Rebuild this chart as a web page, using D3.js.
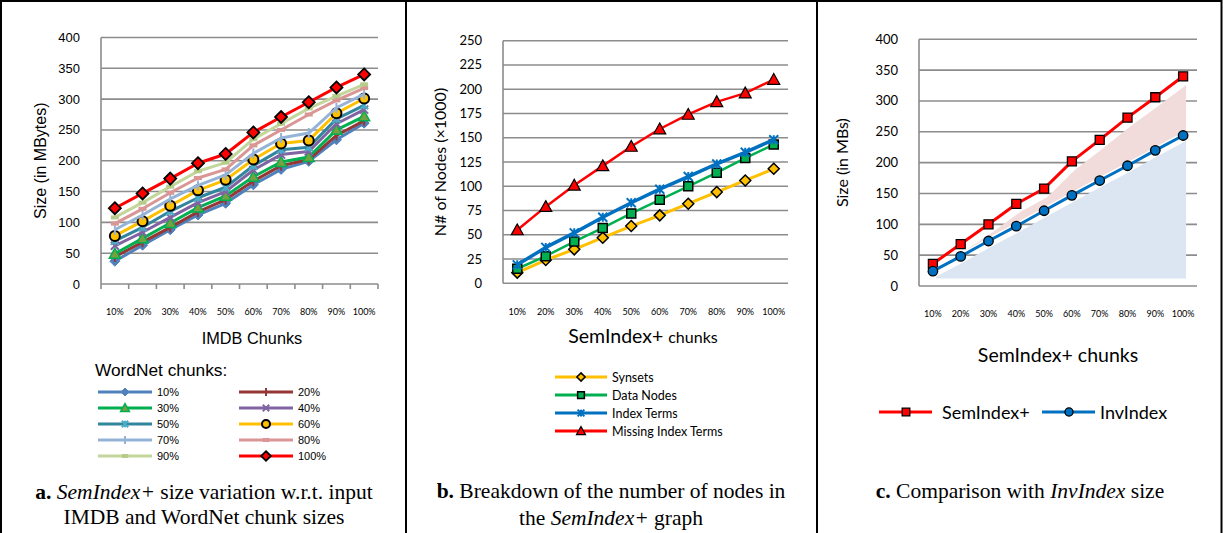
<!DOCTYPE html>
<html lang="en">
<head>
  <meta charset="UTF-8">
  <title>SemIndex+ charts</title>
  <script src="https://d3js.org/d3.v7.min.js"></script>
  <style>
    body { margin:0; background:#fff; overflow:hidden; }
    svg { display:block; }
    .sans { font-family: "Liberation Sans", Arial, sans-serif; }
    .cal { font-family: Lato, "Open Sans", sans-serif; }
    .cap { font-family: "Liberation Serif", "Times New Roman", serif; font-size:21.5px; }
  </style>
</head>
<body>
<script>
  // ---- data ----
  const chunks = ["10%","20%","30%","40%","50%","60%","70%","80%","90%","100%"];

  // a) SemIndex+ size (MB) per IMDB chunk, one line per WordNet chunk
  const wn10  = [37, 63, 88, 112, 131, 161, 186, 199, 234, 261];
  const wn20  = [44, 68, 92, 117, 137, 167, 192, 202, 241, 265];
  const wn30  = [49, 74, 99, 124, 143, 174, 198, 206, 250, 272];
  const wn40  = [62, 84, 108, 132, 150, 185, 210, 215, 260, 283];
  const wn50  = [70, 92, 118, 140, 157, 192, 218, 222, 268, 290];
  const wn60  = [78, 102, 127, 152, 169, 202, 228, 233, 277, 301];
  const wn70  = [88, 112, 138, 160, 177, 212, 237, 245, 286, 308];
  const wn80  = [98, 122, 148, 172, 186, 225, 250, 275, 298, 318];
  const wn90  = [108, 132, 158, 183, 197, 235, 260, 285, 305, 324];
  const wn100 = [123, 147, 171, 196, 211, 246, 271, 295, 319, 340];

  // b) number of nodes (x1000)
  const synsets      = [11, 24, 35, 47, 59, 70, 82, 94, 106, 118];
  const dataNodes    = [15, 28, 43, 57, 72, 86, 100, 114, 129, 143];
  const indexTerms   = [19, 37, 52, 68, 83, 97, 110, 123, 135, 148];
  const missingTerms = [55, 79, 101, 121, 141, 159, 174, 187, 196, 210];

  // c) size comparison (MB)
  const semIndex = [36, 68, 100, 133, 158, 202, 237, 273, 306, 340];
  const invIndex = [24, 48, 73, 97, 122, 147, 171, 195, 220, 244];

  const yTicksA = [0, 50, 100, 150, 200, 250, 300, 350, 400];
  const yTicksB = [0, 25, 50, 75, 100, 125, 150, 175, 200, 225, 250];
  const yTicksC = [0, 50, 100, 150, 200, 250, 300, 350, 400];

  const W = 1223, H = 533;
  const svg = d3.select("body").append("svg").attr("width", W).attr("height", H);

  // panel frames
  svg.append("rect").attr("x", 1).attr("y", 1).attr("width", W - 2.5).attr("height", H + 10)
    .attr("fill", "none").attr("stroke", "#000").attr("stroke-width", 2);
  [406, 817].forEach(x => svg.append("line").attr("x1", x).attr("x2", x).attr("y1", 0).attr("y2", H)
    .attr("stroke", "#000").attr("stroke-width", 2));

  // marker shapes
  function marker(g, type, size, fill, stroke, sw) {
    let p;
    const s = size / 2;
    if (type === "diamond") p = `M0,${-s}L${s},0L0,${s}L${-s},0Z`;
    else if (type === "square") p = `M${-s},${-s}H${s}V${s}H${-s}Z`;
    else if (type === "triangle") p = `M0,${-s}L${s},${s * 0.8}L${-s},${s * 0.8}Z`;
    else if (type === "circle") p = d3.symbol(d3.symbolCircle, Math.PI * s * s)();
    else if (type === "x") p = `M${-s},${-s}L${s},${s}M${s},${-s}L${-s},${s}`;
    else if (type === "star") p = `M${-s},${-s}L${s},${s}M${s},${-s}L${-s},${s}M0,${-s}V${s}`;
    else if (type === "plus") p = `M0,${-s}V${s}M${-s},0H${s}`;
    else if (type === "vbar") p = `M0,${-s}V${s}`;
    else if (type === "dash") p = `M${-s},0H${s}`;
    if (!p) return;
    g.append("path").attr("d", p).attr("fill", fill || "none")
      .attr("stroke", stroke).attr("stroke-width", sw);
  }

  function panel(cfg) {
    const x = d3.scaleBand().domain(chunks).range(cfg.xr);
    const y = d3.scaleLinear().domain(cfg.yd).range(cfg.yr);
    const g = svg.append("g");

    // gridlines
    g.selectAll(".grid").data(cfg.ticks.slice(1)).join("line")
      .attr("x1", cfg.xr[0]).attr("x2", cfg.xr[1])
      .attr("y1", d => y(d)).attr("y2", d => y(d))
      .attr("stroke", "#8c8c8c").attr("stroke-width", 1.6);
    // axes lines
    g.append("line").attr("x1", cfg.xr[0]).attr("x2", cfg.xr[0])
      .attr("y1", y(cfg.yd[0])).attr("y2", y(cfg.yd[1]))
      .attr("stroke", "#8c8c8c").attr("stroke-width", 1.6);
    g.append("line").attr("x1", cfg.xr[0]).attr("x2", cfg.xr[1])
      .attr("y1", y(0)).attr("y2", y(0))
      .attr("stroke", "#8c8c8c").attr("stroke-width", 1.6);
    if (cfg.xTicks) {
      const edges = chunks.map(c => x(c)).concat([cfg.xr[1]]);
      g.selectAll(".xt").data(edges).join("line")
        .attr("x1", d => d).attr("x2", d => d)
        .attr("y1", y(0)).attr("y2", y(0) + 5)
        .attr("stroke", "#8c8c8c").attr("stroke-width", 1.6);
    }
    // y tick labels
    g.selectAll(".yl").data(cfg.ticks).join("text")
      .attr("class", cfg.font)
      .attr("x", cfg.xr[0] - 21).attr("y", d => y(d) + 4.5)
      .attr("text-anchor", "end").attr("font-size", 13).attr("fill", "#000")
      .text(d => d);
    // x tick labels
    g.selectAll(".xl").data(chunks).join("text")
      .attr("class", "cal")
      .attr("x", d => x(d) + x.bandwidth() / 2).attr("y", cfg.xLabelY)
      .attr("text-anchor", "middle").attr("font-size", 9).attr("fill", "#000")
      .text(d => d);
    // y axis title
    g.append("text").attr("class", cfg.font)
      .attr("transform", `translate(${cfg.yTitleX},${(cfg.yr[0] + cfg.yr[1]) / 2}) rotate(-90)`)
      .attr("text-anchor", "middle").attr("font-size", 16).text(cfg.yTitle);

    // areas (panel c)
    if (cfg.areas) cfg.areas.forEach(a => {
      const area = d3.area()
        .x((d, i) => x(chunks[i]) + x.bandwidth() / 2 + a.dx)
        .y0((d, i) => y(a.lo(i)))
        .y1((d, i) => y(a.hi(i)));
      g.append("path").datum(a.data).attr("d", area).attr("fill", a.color);
    });

    // series
    const line = d3.line().x((d, i) => x(chunks[i]) + x.bandwidth() / 2).y(d => y(d));
    cfg.series.forEach(s => {
      g.append("path").datum(s.values).attr("d", line)
        .attr("fill", "none").attr("stroke", s.color).attr("stroke-width", s.width || 3)
        .attr("stroke-linejoin", "round");
      s.values.forEach((v, i) => {
        const m = g.append("g").attr("transform",
          `translate(${x(chunks[i]) + x.bandwidth() / 2},${y(v)})`);
        marker(m, s.marker, s.size, s.fill, s.stroke, s.msw);
      });
    });
    return { x, y };
  }

  // ---- panel a ----
  const seriesA = [
    { name: "10%",  values: wn10,  color: "#4f81bd", marker: "diamond", size: 10, fill: "#4f81bd", stroke: "#4f81bd", msw: 1 },
    { name: "20%",  values: wn20,  color: "#953735", marker: "vbar", size: 10, stroke: "#953735", msw: 2 },
    { name: "30%",  values: wn30,  color: "#00b050", marker: "triangle", size: 11, fill: "#77a040", stroke: "#00b050", msw: 1.5 },
    { name: "40%",  values: wn40,  color: "#8064a2", marker: "x", size: 8, stroke: "#8064a2", msw: 2 },
    { name: "50%",  values: wn50,  color: "#31859c", marker: "star", size: 8, stroke: "#4bacc6", msw: 2 },
    { name: "60%",  values: wn60,  color: "#ffc000", marker: "circle", size: 10, fill: "#ffc000", stroke: "#000", msw: 2 },
    { name: "70%",  values: wn70,  color: "#95b3d7", marker: "vbar", size: 10, stroke: "#95b3d7", msw: 2 },
    { name: "80%",  values: wn80,  color: "#d99694", marker: "dash", size: 8, stroke: "#d99694", msw: 4 },
    { name: "90%",  values: wn90,  color: "#c3d69b", marker: "dash", size: 8, stroke: "#b5cc8a", msw: 4 },
    { name: "100%", values: wn100, color: "#ff0000", marker: "diamond", size: 12, fill: "#ff0000", stroke: "#000", msw: 1.8 }
  ];
  seriesA.forEach(s => s.width = 3);
  panel({
    xr: [101, 378], yd: [0, 400], yr: [284, 37.5], ticks: yTicksA, xTicks: true,
    xLabelY: 315, yTitle: "Size (in MBytes)", yTitleX: 46, font: "sans",
    series: seriesA
  });
  svg.append("text").attr("class", "sans").attr("x", 252).attr("y", 344)
    .attr("text-anchor", "middle").attr("font-size", 16.3).text("IMDB Chunks");
  svg.append("text").attr("class", "sans").attr("x", 95).attr("y", 376)
    .attr("font-size", 17.3).text("WordNet chunks:");
  seriesA.forEach((s, i) => {
    const col = i % 2, row = Math.floor(i / 2);
    const x0 = col ? 239 : 98, yy = 392 + row * 16;
    const lg = svg.append("g");
    lg.append("line").attr("x1", x0).attr("x2", x0 + 54).attr("y1", yy).attr("y2", yy)
      .attr("stroke", s.color).attr("stroke-width", 3);
    marker(lg.append("g").attr("transform", `translate(${x0 + 27},${yy})`),
      s.marker, s.size * 0.8, s.fill, s.stroke, s.msw);
    lg.append("text").attr("class", "sans").attr("x", x0 + 59).attr("y", yy + 4)
      .attr("font-size", 11).text(s.name);
  });

  // ---- panel b ----
  const seriesB = [
    { name: "Synsets", values: synsets, color: "#ffc000", marker: "diamond", size: 11, fill: "#ffc000", stroke: "#000", msw: 1.5 },
    { name: "Data Nodes", values: dataNodes, color: "#00b050", marker: "square", size: 9, fill: "#00b050", stroke: "#000", msw: 1.5 },
    { name: "Index Terms", values: indexTerms, color: "#0070c0", marker: "star", size: 9, stroke: "#0070c0", msw: 2 },
    { name: "Missing Index Terms", values: missingTerms, color: "#ff0000", marker: "triangle", size: 12, fill: "#ff0000", stroke: "#000", msw: 1.2 }
  ];
  seriesB[0].width = 3; seriesB[1].width = 2.5; seriesB[2].width = 3.5; seriesB[3].width = 2.5;
  panel({
    xr: [503, 788], yd: [0, 250], yr: [283.3, 40.7], ticks: yTicksB, xTicks: false,
    xLabelY: 315, yTitle: "N# of Nodes (\u00d71000)", yTitleX: 446, font: "cal",
    series: seriesB
  });
  const bt = svg.append("text").attr("class", "cal").attr("x", 643).attr("y", 343)
    .attr("text-anchor", "middle");
  bt.append("tspan").attr("font-size", 19.5).text("SemIndex+ ");
  bt.append("tspan").attr("font-size", 16).text("chunks");
  seriesB.forEach((s, i) => {
    const yy = 377 + i * 18, x0 = 555;
    const lg = svg.append("g");
    lg.append("line").attr("x1", x0).attr("x2", x0 + 52).attr("y1", yy).attr("y2", yy)
      .attr("stroke", s.color).attr("stroke-width", 3);
    marker(lg.append("g").attr("transform", `translate(${x0 + 26},${yy})`),
      s.marker, s.size * 0.75, s.fill, s.stroke, s.msw);
    lg.append("text").attr("class", "cal").attr("x", x0 + 57).attr("y", yy + 4.5)
      .attr("font-size", 12.5).text(s.name);
  });

  // ---- panel c ----
  const seriesC = [
    { name: "SemIndex+", values: semIndex, color: "#ff0000", marker: "square", size: 9, fill: "#ff0000", stroke: "#000", msw: 1.3, width: 3 },
    { name: "InvIndex", values: invIndex, color: "#0070c0", marker: "circle", size: 9.5, fill: "#0070c0", stroke: "#000", msw: 1.3, width: 3 }
  ];
  panel({
    xr: [919, 1197], yd: [0, 400], yr: [286, 39.3], ticks: yTicksC, xTicks: false,
    xLabelY: 317, yTitle: "Size (in MBs)", yTitleX: 848, font: "cal",
    areas: [
      { data: invIndex, color: "#dce6f2", dx: 3, lo: () => 12, hi: i => Math.max(12, invIndex[i] - 9) },
      { data: semIndex, color: "#f2dcdb", dx: 3, lo: i => invIndex[i] + 8,
        hi: i => Math.max(invIndex[i] + 8, semIndex[i] - 14) }
    ],
    series: seriesC
  });
  svg.append("text").attr("class", "cal").attr("x", 1058).attr("y", 362)
    .attr("text-anchor", "middle").attr("font-size", 19.5).text("SemIndex+ chunks");
  [[879, 942], [1042, 1100]].forEach((p, i) => {
    const s = seriesC[i], yy = 412;
    const lg = svg.append("g");
    lg.append("line").attr("x1", p[0]).attr("x2", p[0] + 53).attr("y1", yy).attr("y2", yy)
      .attr("stroke", s.color).attr("stroke-width", 3);
    marker(lg.append("g").attr("transform", `translate(${p[0] + 27},${yy})`),
      s.marker, s.size * 0.85, s.fill, s.stroke, s.msw);
    lg.append("text").attr("class", "cal").attr("x", p[1]).attr("y", yy + 6.5)
      .attr("font-size", 18).text(s.name);
  });

  // ---- captions ----
  function caption(x, y, parts) {
    const t = svg.append("text").attr("class", "cap").attr("x", x).attr("y", y)
      .attr("text-anchor", "middle");
    parts.forEach(p => t.append("tspan")
      .attr("font-weight", p.b ? "bold" : null)
      .attr("font-style", p.i ? "italic" : null).text(p.t));
  }
  caption(204, 499, [{ t: "a.", b: 1 }, { t: " " }, { t: "SemIndex+", i: 1 }, { t: " size variation w.r.t. input" }]);
  caption(204, 524, [{ t: "IMDB and WordNet chunk sizes" }]);
  caption(611, 498, [{ t: "b.", b: 1 }, { t: " Breakdown of the number of nodes in" }]);
  caption(611, 525, [{ t: "the " }, { t: "SemIndex+", i: 1 }, { t: " graph" }]);
  caption(1020, 498, [{ t: "c.", b: 1 }, { t: " Comparison with " }, { t: "InvIndex", i: 1 }, { t: " size" }]);
</script>
</body>
</html>
